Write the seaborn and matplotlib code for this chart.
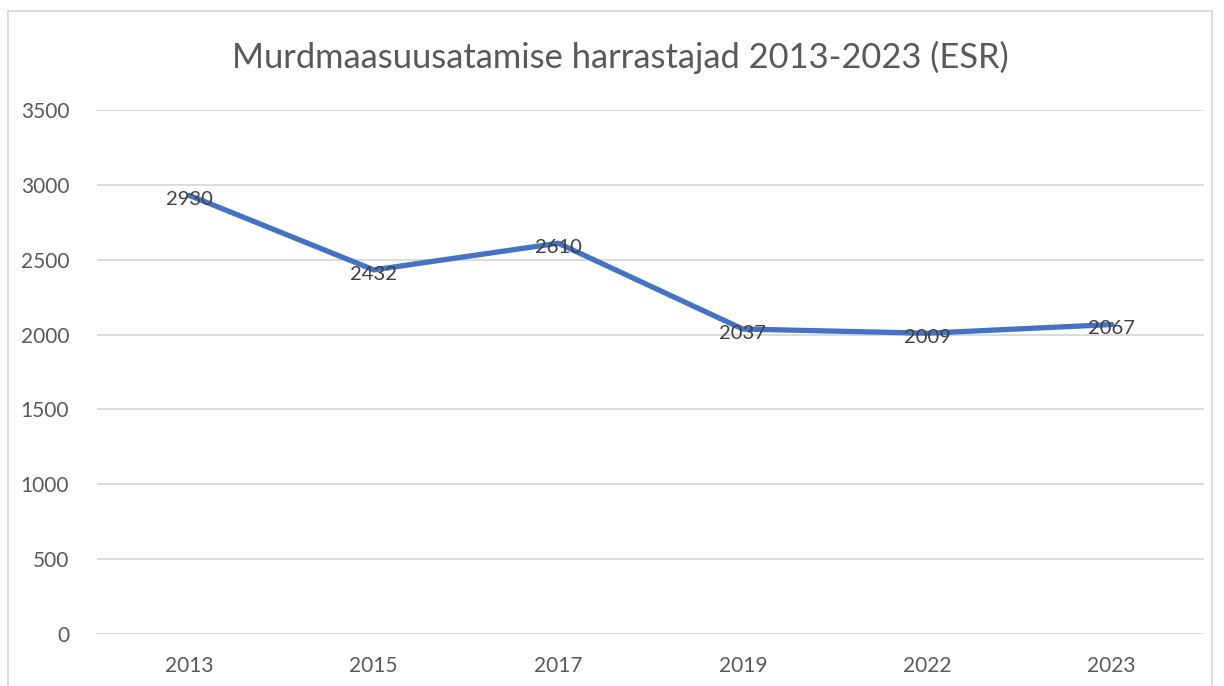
import matplotlib
matplotlib.use("Agg")
import matplotlib.pyplot as plt
import seaborn as sns
import pandas as pd
from matplotlib.patches import Rectangle

years = ["2013", "2015", "2017", "2019", "2022", "2023"]
participants = [2930, 2432, 2610, 2037, 2009, 2067]
y_ticks = [0, 500, 1000, 1500, 2000, 2500, 3000, 3500]
title = "Murdmaasuusatamise harrastajad 2013-2023 (ESR)"

sns.set_theme(style="white")
plt.rcParams["font.family"] = ["Lato", "DejaVu Sans"]

df = pd.DataFrame({"year": years, "value": participants})

fig = plt.figure(figsize=(12.24, 6.86), dpi=100)
ax = fig.add_axes([97 / 1224, 1 - 634 / 686, (1204 - 97) / 1224, (634 - 110) / 686])

sns.lineplot(data=df, x="year", y="value", ax=ax, color="#4472C4",
             linewidth=3.8, sort=False, solid_capstyle="round")

# data labels, sitting on the points
for i, v in enumerate(participants):
    ax.annotate(str(v), (i, v), xytext=(0, -3), textcoords="offset points",
                ha="center", va="center", fontsize=14.5, color="#404040")

ax.set_xlim(-0.5, len(years) - 0.5)
ax.set_ylim(0, 3500)
ax.set_yticks(y_ticks)
ax.set_yticklabels([str(t) for t in y_ticks])
ax.grid(axis="y", color="#D9D9D9", linewidth=1.3)
ax.set_axisbelow(True)
for s in ax.spines.values():
    s.set_visible(False)
ax.tick_params(axis="both", length=0, labelsize=15, colors="#595959")
ax.tick_params(axis="y", pad=20)
ax.tick_params(axis="x", pad=16)
ax.set_xlabel("")
ax.set_ylabel("")

fig.text(620 / 1224, 1 - 57 / 686, title, ha="center", va="center",
         fontsize=24.8, color="#595959")

# chart frame
fig.patches.append(Rectangle((8 / 1224, -0.05), (1212 - 8) / 1224, 1 - 11 / 686 + 0.05,
                             transform=fig.transFigure, fill=False,
                             edgecolor="#D9D9D9", linewidth=1.3))

fig.savefig("out.png", dpi=100)
